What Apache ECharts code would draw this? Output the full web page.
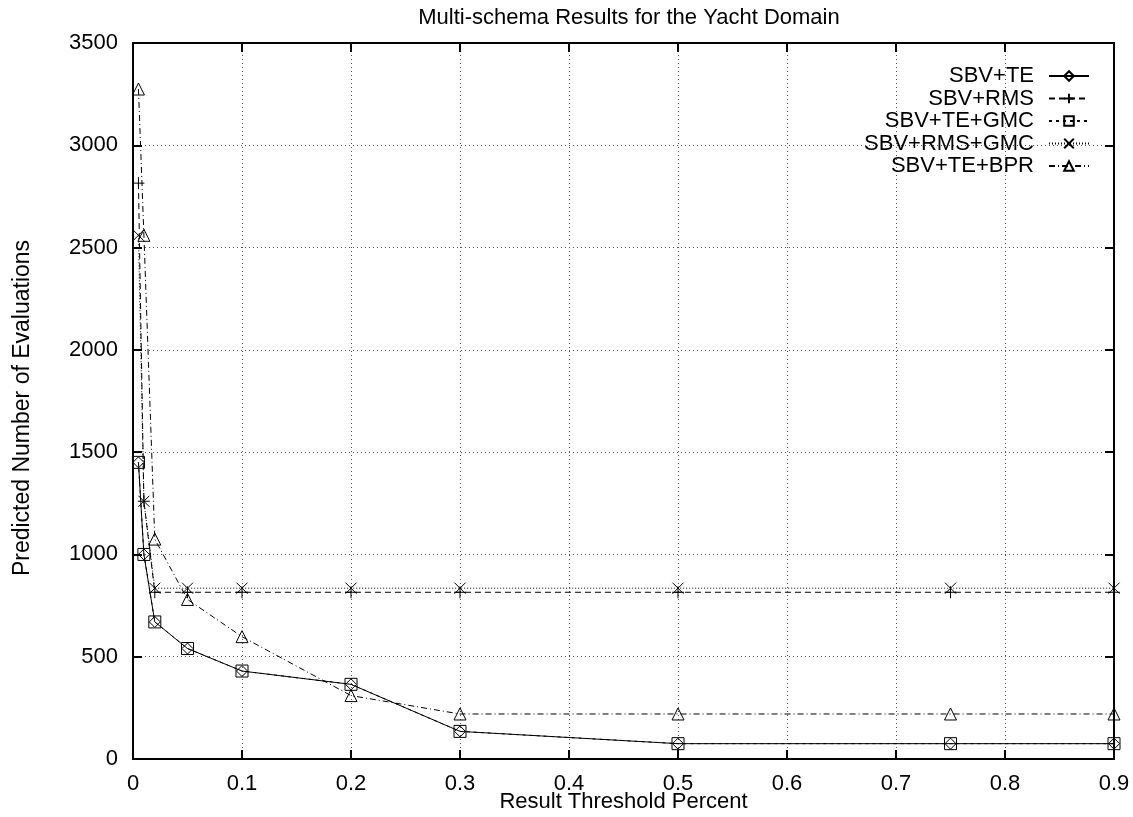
<!DOCTYPE html>
<html>
<head>
<meta charset="utf-8">
<script src="https://cdn.jsdelivr.net/npm/echarts@6/dist/echarts.min.js"></script>
<style>
html,body{margin:0;padding:0;background:#fff;}
#chart{width:1133px;height:817px;}
</style>
</head>
<body>
<div id="chart"></div>
<script>
// ---- data ----
var thresholds = [0.005, 0.01, 0.02, 0.05, 0.1, 0.2, 0.3, 0.5, 0.75, 0.9];
var seriesNames = ['SBV+TE', 'SBV+RMS', 'SBV+TE+GMC', 'SBV+RMS+GMC', 'SBV+TE+BPR'];
var sbvTE       = [1450, 1000, 670, 540, 430, 365, 135, 75, 75, 75];
var sbvRMS      = [2815, 1260, 815, 815, 815, 815, 815, 815, 815, 815];
var sbvTEGMC    = [1450, 1000, 670, 540, 430, 365, 135, 75, 75, 75];
var sbvRMSGMC   = [2560, 1260, 835, 835, 835, 835, 835, 835, 835, 835];
var sbvTEBPR    = [3275, 2560, 1075, 780, 598, 310, 220, 220, 220, 220];
var xTicks = [0, 0.1, 0.2, 0.3, 0.4, 0.5, 0.6, 0.7, 0.8, 0.9];
var yTicks = [0, 500, 1000, 1500, 2000, 2500, 3000, 3500];

function pairs(ys) { return thresholds.map(function (x, i) { return [x, ys[i]]; }); }

var FONT = 'Liberation Sans, Arial, Helvetica, sans-serif';
var FS = 22;

var symbols = {
  diamond: 'path://M5,0L10,5L5,10L0,5Z',
  plus: 'path://M5,0L5,10M0,5L10,5',
  square: 'path://M0,0L10,0L10,10L0,10Z',
  cross: 'path://M0,0L10,10M0,10L10,0',
  triangle: 'path://M5,0L10,9L0,9Z'
};

function mkSeries(name, data, symbol, size, dash) {
  return {
    name: name,
    type: 'line',
    data: pairs(data),
    symbol: symbol,
    symbolSize: size,
    clip: false,
    animation: false,
    lineStyle: { color: '#000', width: 1, type: dash },
    itemStyle: { color: 'transparent', borderColor: '#000', borderWidth: 1 },
    emphasis: { disabled: true }
  };
}

function axisCommon() {
  return {
    axisLine: { show: true, onZero: false, lineStyle: { color: '#000', width: 2 } },
    axisTick: { show: true, inside: true, length: 9, lineStyle: { color: '#000', width: 2 } }
  };
}

var chart = echarts.init(document.getElementById('chart'), null, { renderer: 'canvas' });
chart.setOption({
  backgroundColor: '#fff',
  animation: false,
  textStyle: { fontFamily: FONT },
  title: {
    text: 'Multi-schema Results for the Yacht Domain',
    left: 629, top: 7, textAlign: 'center', padding: 0,
    textStyle: { fontFamily: FONT, fontSize: FS, fontWeight: 'normal', color: '#000' }
  },
  grid: { left: 133, top: 43, width: 981, height: 716, show: false, containLabel: false, outerBoundsMode: 'none' },
  legend: {
    orient: 'vertical',
    right: 43, top: 65, padding: 0,
    align: 'right',
    itemWidth: 40, itemHeight: 12, itemGap: 0.5,
    textStyle: { fontFamily: FONT, fontSize: FS, color: '#000', lineHeight: 22, padding: [0, 10, 0, 0] },
    data: seriesNames
  },
  xAxis: [
    Object.assign(axisCommon(), {
      type: 'value', min: xTicks[0], max: xTicks[xTicks.length - 1], interval: 0.1,
      position: 'bottom',
      name: 'Result Threshold Percent', nameLocation: 'middle', nameGap: 29, nameMoveOverlap: false,
      nameTextStyle: { fontFamily: FONT, fontSize: FS, color: '#000', padding: [3, 0, 0, 0] },
      axisLabel: { show: true, margin: 14, fontFamily: FONT, fontSize: FS, color: '#000',
        formatter: function (v) { return String(Math.round(v * 10) / 10); } },
      splitLine: { show: true, lineStyle: { color: '#555', width: 1, type: [1, 3] } }
    }),
    Object.assign(axisCommon(), {
      type: 'value', min: xTicks[0], max: xTicks[xTicks.length - 1], interval: 0.1,
      position: 'top', axisLabel: { show: false }, splitLine: { show: false }
    })
  ],
  yAxis: [
    Object.assign(axisCommon(), {
      type: 'value', min: yTicks[0], max: yTicks[yTicks.length - 1], interval: 500,
      position: 'left',
      name: 'Predicted Number of Evaluations', nameLocation: 'middle', nameGap: 99, nameMoveOverlap: false,
      nameTextStyle: { fontFamily: FONT, fontSize: 23, color: '#000', padding: [0, 14, 0, 0] },
      axisLabel: { show: true, margin: 15, fontFamily: FONT, fontSize: FS, color: '#000',
        formatter: function (v) { return String(v); } },
      splitLine: { show: true, lineStyle: { color: '#555', width: 1, type: [1, 3] } }
    }),
    Object.assign(axisCommon(), {
      type: 'value', min: yTicks[0], max: yTicks[yTicks.length - 1], interval: 500,
      position: 'right', axisLabel: { show: false }, splitLine: { show: false }
    })
  ],
  series: [
    mkSeries(seriesNames[0], sbvTE, symbols.diamond, 11, 'solid'),
    mkSeries(seriesNames[1], sbvRMS, symbols.plus, 12, [6, 4]),
    mkSeries(seriesNames[2], sbvTEGMC, symbols.square, 12, [3, 4]),
    mkSeries(seriesNames[3], sbvRMSGMC, symbols.cross, 11, [1, 2]),
    mkSeries(seriesNames[4], sbvTEBPR, symbols.triangle, 12, [6, 3, 1, 3])
  ]
});
</script>
</body>
</html>
